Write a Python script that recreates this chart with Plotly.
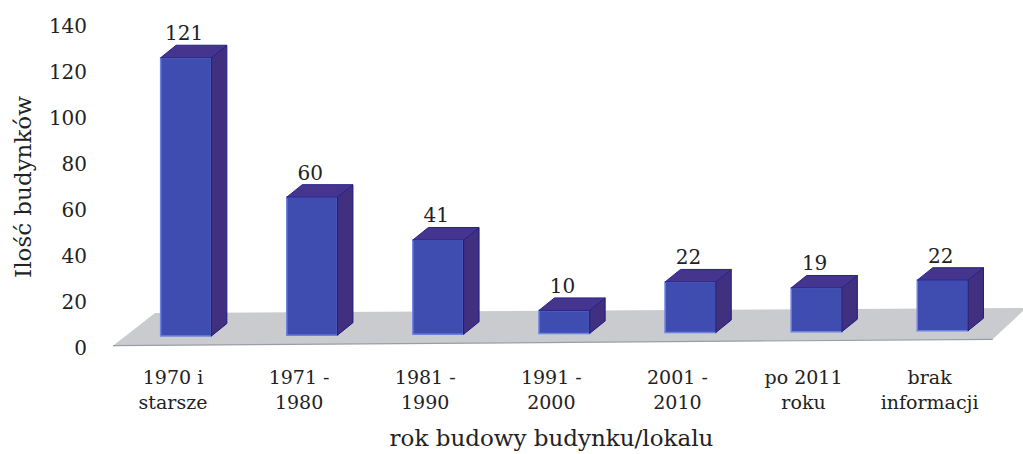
import plotly.graph_objects as go

categories = ["1970 i<br>starsze", "1971 -<br>1980", "1981 -<br>1990", "1991 -<br>2000",
              "2001 -<br>2010", "po 2011<br>roku", "brak<br>informacji"]
values = [121, 60, 41, 10, 22, 19, 22]
y_ticks = [0, 20, 40, 60, 80, 100, 120, 140]

FONT = "DejaVu Serif"
TXT = "#222222"
L, R, T, B = 80, 0, 26, 106
W, H = 1023, 454
STEP_PX = 126.1
X0_PX = 186.0
PX_PER_UNIT = 2.3
LABEL_SHIFT = 13 / STEP_PX
xr = [(L - X0_PX) / STEP_PX, (W - R - X0_PX) / STEP_PX]
bar_w = 50.7 / STEP_PX
dx = 15.5 / STEP_PX
dy = 12.5 / PX_PER_UNIT
bases = [5.2 + 0.38 * i for i in range(len(values))]


def ux(px):
    return (px - X0_PX) / STEP_PX


def uy(py):
    return (348 - py) / PX_PER_UNIT


xs = list(range(len(values)))
tops = [b + v for b, v in zip(bases, values)]

top_x, top_y, side_x, side_y = [], [], [], []
for x, b, t in zip(xs, bases, tops):
    a, c = x - bar_w / 2, x + bar_w / 2
    top_x += [a, c, c + dx, a + dx, a, None]
    top_y += [t, t, t + dy, t + dy, t, None]
    side_x += [c, c + dx, c + dx, c, c, None]
    side_y += [b, b + dy, t + dy, t, b, None]

fig = go.Figure()
fig.add_trace(go.Bar(x=xs, y=values, base=bases, width=bar_w,
                     marker=dict(color="#3f4db0", line=dict(color="#6c82e0", width=1.5)),
                     hoverinfo="skip"))
fig.add_trace(go.Scatter(x=side_x, y=side_y, mode="lines", fill="toself",
                         fillcolor="#41307f", line=dict(color="#1c1c78", width=1), hoverinfo="skip"))
fig.add_trace(go.Scatter(x=top_x, y=top_y, mode="lines", fill="toself",
                         fillcolor="#46358f", line=dict(color="#24248a", width=1), hoverinfo="skip"))
fig.add_trace(go.Scatter(x=[x - 0.015 for x in xs], y=[t + dy for t in tops], mode="text",
                         text=[str(v) for v in values], textposition="top center",
                         textfont=dict(family=FONT, size=20, color=TXT), cliponaxis=False,
                         hoverinfo="skip"))

floor_pts = [(113, 345.7), (155, 313), (1023, 308), (1023, 311), (992.7, 339.3)]
path = "M " + " L ".join(f"{ux(px):.4f},{uy(py):.3f}" for px, py in floor_pts) + " Z"
fig.add_shape(type="path", path=path, xref="x", yref="y", layer="below",
              fillcolor="#c9cbce", line=dict(width=0))
fig.add_shape(type="line", xref="x", yref="y", layer="below",
              x0=ux(113), y0=uy(345.7), x1=ux(992.7), y1=uy(339.3),
              line=dict(color="#9a9da6", width=1.2))

fig.update_layout(
    width=W, height=H, margin=dict(l=L, r=R, t=T, b=B, pad=0, autoexpand=False),
    paper_bgcolor="white", plot_bgcolor="rgba(0,0,0,0)", showlegend=False,
    font=dict(family=FONT, size=19, color=TXT),
    xaxis=dict(range=xr, tickmode="array", tickvals=[x - LABEL_SHIFT for x in xs], ticktext=categories,
               showgrid=False, zeroline=False, showline=False, ticks="",
               ticklabelstandoff=16, tickfont=dict(family=FONT, size=19, color=TXT),
               title=dict(text="rok budowy budynku/lokalu", standoff=18,
                          font=dict(family=FONT, size=23, color=TXT))),
    yaxis=dict(range=[0, 140], tickvals=y_ticks, anchor="free", position=0.0075,
               showgrid=False, zeroline=False, showline=False, ticks="",
               tickfont=dict(family=FONT, size=20, color=TXT),
               title=dict(text="Ilość budynków", standoff=9,
                          font=dict(family=FONT, size=23, color=TXT))),
)
fig.write_html("out.html", config={"displayModeBar": False},
               post_script="document.body.style.margin='0';")
